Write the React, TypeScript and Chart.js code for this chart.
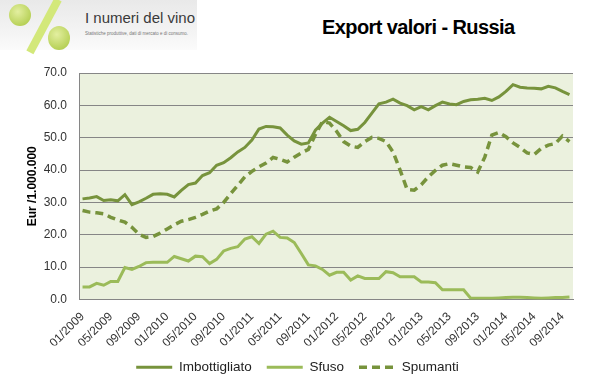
import React, { useEffect, useRef } from "react";
import { Chart, registerables } from "chart.js";

Chart.register(...registerables);

const categories = [
  "01/2009", "02/2009", "03/2009", "04/2009", "05/2009", "06/2009", "07/2009", "08/2009", "09/2009", "10/2009", "11/2009", "12/2009",
  "01/2010", "02/2010", "03/2010", "04/2010", "05/2010", "06/2010", "07/2010", "08/2010", "09/2010", "10/2010", "11/2010", "12/2010",
  "01/2011", "02/2011", "03/2011", "04/2011", "05/2011", "06/2011", "07/2011", "08/2011", "09/2011", "10/2011", "11/2011", "12/2011",
  "01/2012", "02/2012", "03/2012", "04/2012", "05/2012", "06/2012", "07/2012", "08/2012", "09/2012", "10/2012", "11/2012", "12/2012",
  "01/2013", "02/2013", "03/2013", "04/2013", "05/2013", "06/2013", "07/2013", "08/2013", "09/2013", "10/2013", "11/2013", "12/2013",
  "01/2014", "02/2014", "03/2014", "04/2014", "05/2014", "06/2014", "07/2014", "08/2014", "09/2014", "10/2014",
];

const shownTicks = [
  "01/2009", "05/2009", "09/2009", "01/2010", "05/2010", "09/2010", "01/2011", "05/2011", "09/2011",
  "01/2012", "05/2012", "09/2012", "01/2013", "05/2013", "09/2013", "01/2014", "05/2014", "09/2014",
];

const imbottigliato = [
  31.1, 31.4, 31.8, 30.6, 30.8, 30.5, 32.4, 29.3, 30.2, 31.3, 32.5, 32.7,
  32.5, 31.7, 33.7, 35.5, 36.0, 38.3, 39.2, 41.5, 42.3, 43.8, 45.6, 47.0,
  49.3, 52.7, 53.5, 53.4, 53.0, 50.8, 49.0, 48.0, 48.4, 52.3, 54.5, 56.3,
  55.0, 53.7, 52.2, 52.6, 54.7, 57.6, 60.5, 61.0, 61.9, 60.7, 59.9, 58.6,
  59.6, 58.6, 59.9, 61.0, 60.4, 60.2, 61.2, 61.7, 61.9, 62.2, 61.5, 62.6,
  64.3, 66.4, 65.6, 65.4, 65.3, 65.1, 65.9, 65.4, 64.3, 63.3,
];

const sfuso = [
  3.9, 3.9, 5.0, 4.4, 5.6, 5.6, 9.9, 9.3, 10.2, 11.4, 11.5, 11.5,
  11.5, 13.3, 12.6, 11.9, 13.4, 13.2, 11.1, 12.4, 15.0, 15.8, 16.3, 18.7,
  19.4, 17.3, 20.2, 21.1, 19.2, 19.0, 17.6, 14.2, 10.7, 10.4, 9.3, 7.5,
  8.4, 8.4, 6.0, 7.3, 6.5, 6.5, 6.5, 8.6, 8.3, 7.0, 7.0, 7.0,
  5.4, 5.4, 5.2, 3.0, 3.0, 3.0, 3.0, 0.4, 0.4, 0.4, 0.4, 0.5,
  0.6, 0.7, 0.7, 0.6, 0.5, 0.4, 0.5, 0.6, 0.6, 0.8,
];

const spumanti = [
  27.5, 27.0, 26.8, 26.5, 25.4, 24.6, 23.9, 22.3, 20.2, 19.2, 19.5, 20.5,
  21.8, 23.1, 24.2, 24.7, 25.4, 26.3, 27.3, 28.0, 30.0, 32.7, 35.3, 37.9,
  39.6, 41.0, 42.2, 43.9, 43.3, 42.5, 44.0, 45.3, 46.4, 51.0, 55.0, 54.5,
  52.0, 48.8, 47.4, 47.0, 48.8, 50.1, 49.8, 48.8, 45.6, 40.0, 34.0, 33.8,
  35.5, 37.9, 39.9, 41.5, 42.0, 41.5, 41.0, 40.8, 39.4, 44.0, 50.8, 51.6,
  50.3, 48.4, 47.0, 45.3, 44.8, 46.7, 47.7, 48.2, 50.5, 48.8,
];

const DARK = "#77933C";
const LIGHT = "#9BBB59";
const PLOT_BG = "#EBF1DE";
const GRID = "#868686";
const FONT = '"Liberation Sans", Arial, sans-serif';

const plotBg = {
  id: "plotBg",
  beforeDraw(chart: any) {
    const { ctx, chartArea: a } = chart;
    ctx.save();
    ctx.fillStyle = PLOT_BG;
    ctx.fillRect(a.left, a.top, a.right - a.left, a.bottom - a.top);
    ctx.restore();
  },
};

export default function App() {
  const ref = useRef<HTMLCanvasElement | null>(null);

  useEffect(() => {
    if (!ref.current) return;
    Chart.defaults.font.family = FONT;
    const chart = new Chart(ref.current, {
      type: "line",
      data: {
        labels: categories,
        datasets: [
          {
            label: "Imbottigliato",
            data: imbottigliato,
            borderColor: DARK,
            backgroundColor: DARK,
            borderWidth: 3,
            pointRadius: 0,
            tension: 0,
          },
          {
            label: "Sfuso",
            data: sfuso,
            borderColor: LIGHT,
            backgroundColor: LIGHT,
            borderWidth: 3,
            pointRadius: 0,
            tension: 0,
          },
          {
            label: "Spumanti",
            data: spumanti,
            borderColor: DARK,
            backgroundColor: DARK,
            borderWidth: 3.5,
            borderDash: [8, 5],
            pointRadius: 0,
            tension: 0,
          },
        ],
      },
      options: {
        responsive: false,
        animation: false,
        layout: { padding: { top: 73, right: 22, left: 22, bottom: 2 } },
        plugins: {
          legend: {
            position: "bottom",
            labels: {
              usePointStyle: true,
              pointStyle: "line",
              pointStyleWidth: 36,
              boxHeight: 13,
              padding: 15,
              color: "#222",
              font: { family: FONT, size: 13.5 },
              generateLabels: (chart: any) => {
                const items = (Chart.defaults.plugins.legend.labels as any).generateLabels(chart);
                return items.map((it: any) => {
                  const ds = chart.data.datasets[it.datasetIndex];
                  return {
                    ...it,
                    pointStyle: "line",
                    strokeStyle: ds.borderColor,
                    fillStyle: ds.borderColor,
                    lineWidth: ds.borderWidth,
                    lineDash: ds.borderDash || [],
                  };
                });
              },
            },
          },
          tooltip: { enabled: false },
        },
        scales: {
          x: {
            offset: true,
            grid: { display: false, drawTicks: false },
            border: { color: GRID, width: 1 },
            ticks: {
              autoSkip: false,
              maxRotation: 45,
              minRotation: 45,
              padding: 10,
              color: "#333",
              font: { family: FONT, size: 12 },
              callback: (_v: any, i: number) =>
                shownTicks.includes(categories[i]) ? categories[i] : null,
            },
            afterFit: (s: any) => {
              s.height = 46;
            },
          },
          y: {
            min: 0,
            max: 70,
            grid: { color: GRID, drawTicks: false, lineWidth: 1 },
            border: { color: GRID, width: 1 },
            ticks: {
              stepSize: 10,
              padding: 12,
              color: "#333",
              font: { family: FONT, size: 12 },
              callback: (v: any) => Number(v).toFixed(1),
            },
            title: {
              display: true,
              text: "Eur /1.000.000",
              color: "#000",
              font: { family: FONT, size: 12, weight: "bold" },
              padding: { top: 3, bottom: 0 },
            },
            afterFit: (s: any) => {
              s.width = 57;
            },
          },
        },
      },
      plugins: [plotBg],
    } as any);
    return () => chart.destroy();
  }, []);

  return (
    <div
      style={{
        position: "absolute",
        left: 0,
        top: 0,
        width: 595,
        height: 386,
        background: "#fff",
        overflow: "hidden",
        fontFamily: FONT,
      }}
    >
      {/* logo area */}
      <div
        style={{
          position: "absolute",
          left: 0,
          top: 0,
          width: 197,
          height: 50,
          background: "linear-gradient(180deg, #e9e9e9 0%, #f3f3f3 60%, #fbfbfb 100%)",
        }}
      />
      <div
        style={{
          position: "absolute",
          left: 9,
          top: 4,
          width: 22,
          height: 22,
          borderRadius: "50%",
          background: "radial-gradient(circle at 40% 35%, #e3efa0, #b9d25a 70%, #a5c048)",
        }}
      />
      <div
        style={{
          position: "absolute",
          left: 40,
          top: -4,
          width: 8,
          height: 60,
          background: "#d3e87a",
          transform: "rotate(28deg)",
          transformOrigin: "center",
        }}
      />
      <div
        style={{
          position: "absolute",
          left: 48,
          top: 26,
          width: 22,
          height: 24,
          borderRadius: "50%",
          background: "radial-gradient(circle at 40% 35%, #e3efa0, #b9d25a 70%, #a5c048)",
        }}
      />
      <div
        style={{
          position: "absolute",
          left: 85,
          top: 9,
          fontSize: 15,
          lineHeight: "18px",
          color: "#3a3a3a",
          whiteSpace: "nowrap",
        }}
      >
        I numeri del vino
      </div>
      <div
        style={{
          position: "absolute",
          left: 85,
          top: 31,
          fontSize: 4.5,
          lineHeight: "6px",
          color: "#777",
          whiteSpace: "nowrap",
        }}
      >
        Statistiche produttive, dati di mercato e di consumo.
      </div>
      <div
        style={{
          position: "absolute",
          left: 322,
          top: 17,
          fontSize: 20,
          lineHeight: "20px",
          fontWeight: "bold",
          letterSpacing: "-0.6px",
          color: "#000",
          whiteSpace: "nowrap",
        }}
      >
        Export valori - Russia
      </div>
      <canvas
        ref={ref}
        width={595}
        height={386}
        style={{ position: "absolute", left: 0, top: 0, width: 595, height: 386, display: "block" }}
      />
    </div>
  );
}
